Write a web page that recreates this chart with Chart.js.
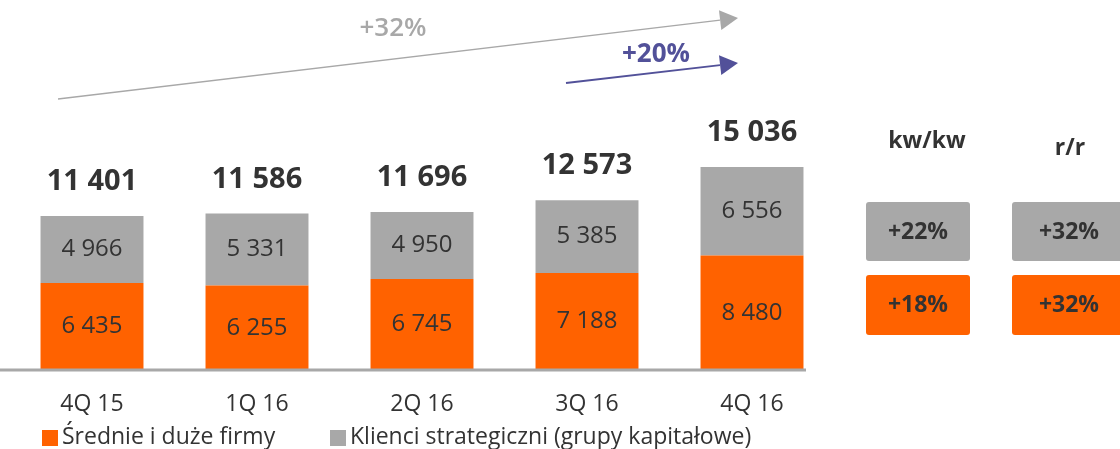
<!DOCTYPE html>
<html><head><meta charset="utf-8">
<script src="https://cdn.jsdelivr.net/npm/chart.js@4.4.1/dist/chart.umd.min.js"></script>
<style>html,body{margin:0;padding:0;background:#fff}#wrap{width:1120px;height:449px;position:relative}</style>
</head><body><div id="wrap"><canvas id="c" width="1120" height="449"></canvas></div>
<script>
const categories = ["4Q 15", "1Q 16", "2Q 16", "3Q 16", "4Q 16"];
const sredniePlusDuze = [6435, 6255, 6745, 7188, 8480];
const klienciStrategiczni = [4966, 5331, 4950, 5385, 6556];
const totals = [11401, 11586, 11696, 12573, 15036];
const seriesNames = ["Średnie i duże firmy", "Klienci strategiczni (grupy kapitałowe)"];
const growthHeaders = ["kw/kw", "r/r"];
const growthGray = ["+22%", "+32%"];
const growthOrange = ["+18%", "+32%"];
const arrowLabels = ["+32%", "+20%"];

const ORANGE = "#FF6200", GRAY = "#A8A8A8", DARK = "#333333", PURPLE = "#525199";
const FONT = "'Open Sans', 'Noto Sans', sans-serif";
const fmt = v => String(v).replace(/\B(?=(\d{3})+(?!\d))/g, " ");

function arrow(ctx, x1, y1, x2, y2, color, w, head) {
  const ang = Math.atan2(y2 - y1, x2 - x1);
  const bx = x2 - head * Math.cos(ang), by = y2 - head * Math.sin(ang);
  ctx.strokeStyle = color; ctx.lineWidth = w;
  ctx.beginPath(); ctx.moveTo(x1, y1); ctx.lineTo(bx, by); ctx.stroke();
  ctx.fillStyle = color; ctx.beginPath();
  ctx.moveTo(x2, y2);
  ctx.lineTo(bx + head * 0.55 * Math.sin(ang), by - head * 0.55 * Math.cos(ang));
  ctx.lineTo(bx - head * 0.55 * Math.sin(ang), by + head * 0.55 * Math.cos(ang));
  ctx.closePath(); ctx.fill();
}
function rrect(ctx, x, y, w, h, r, color) {
  ctx.fillStyle = color; ctx.beginPath();
  ctx.moveTo(x + r, y); ctx.lineTo(x + w - r, y); ctx.quadraticCurveTo(x + w, y, x + w, y + r);
  ctx.lineTo(x + w, y + h - r); ctx.quadraticCurveTo(x + w, y + h, x + w - r, y + h);
  ctx.lineTo(x + r, y + h); ctx.quadraticCurveTo(x, y + h, x, y + h - r);
  ctx.lineTo(x, y + r); ctx.quadraticCurveTo(x, y, x + r, y); ctx.closePath(); ctx.fill();
}

const deco = {
  id: "deco",
  afterDatasetsDraw(chart) {
    const ctx = chart.ctx, xs = chart.scales.x, ys = chart.scales.y;
    ctx.save();
    const y0 = ys.getPixelForValue(0);
    ctx.fillStyle = GRAY; ctx.fillRect(0, y0 - 1.5, 806, 3);
    ctx.textAlign = "center"; ctx.textBaseline = "middle";
    // segment labels
    ctx.font = "24px " + FONT; ctx.fillStyle = DARK;
    chart.data.datasets.forEach((ds, di) => {
      chart.getDatasetMeta(di).data.forEach((bar, i) => {
        const p = bar.getProps(["x", "y", "base"], true);
        ctx.fillText(fmt(ds.data[i]), p.x, (p.y + p.base) / 2);
      });
    });
    // totals
    ctx.font = "bold 29px " + FONT;
    totals.forEach((t, i) => {
      const x = xs.getPixelForValue(i);
      const y = ys.getPixelForValue(sredniePlusDuze[i] + klienciStrategiczni[i]);
      ctx.fillText(fmt(t), x, y - 34);
    });
    // x labels
    ctx.font = "23px " + FONT;
    categories.forEach((c, i) => ctx.fillText(c, xs.getPixelForValue(i), 404));
    // legend
    ctx.textAlign = "left";
    ctx.font = "23px " + FONT;
    ctx.fillStyle = ORANGE; ctx.fillRect(42, 430, 16, 16);
    ctx.fillStyle = DARK; ctx.fillText(seriesNames[0], 62, 437);
    ctx.fillStyle = GRAY; ctx.fillRect(330, 430, 16, 16);
    ctx.fillStyle = DARK; ctx.fillText(seriesNames[1], 350, 437);
    // arrows
    arrow(ctx, 58, 99, 738, 18, GRAY, 1.5, 18);
    arrow(ctx, 566, 83, 738, 63, PURPLE, 1.8, 18);
    ctx.textAlign = "center";
    ctx.font = "600 26px " + FONT;
    ctx.fillStyle = GRAY; ctx.fillText(arrowLabels[0], 393, 29);
    ctx.font = "bold 26px " + FONT;
    ctx.fillStyle = PURPLE; ctx.fillText(arrowLabels[1], 656, 55);
    // growth boxes
    ctx.font = "bold 23px " + FONT; ctx.fillStyle = DARK;
    ctx.fillText(growthHeaders[0], 927, 141);
    ctx.fillText(growthHeaders[1], 1070, 148);
    const boxX = [866, 1012], boxW = [104, 110];
    for (let k = 0; k < 2; k++) {
      rrect(ctx, boxX[k], 202, boxW[k], 59, 3, GRAY);
      rrect(ctx, boxX[k], 275, boxW[k], 60, 3, ORANGE);
      ctx.fillStyle = DARK; ctx.font = "bold 23px " + FONT;
      ctx.fillText(growthGray[k], 918 + (k ? 151 : 0), 232);
      ctx.fillText(growthOrange[k], 918 + (k ? 151 : 0), 305);
    }
    ctx.restore();
  }
};

new Chart(document.getElementById("c"), {
  type: "bar",
  data: {
    labels: categories,
    datasets: [
      { label: seriesNames[0], data: sredniePlusDuze, backgroundColor: ORANGE, borderWidth: 0 },
      { label: seriesNames[1], data: klienciStrategiczni, backgroundColor: GRAY, borderWidth: 0 }
    ]
  },
  options: {
    responsive: false, animation: false,
    layout: { padding: { left: 9.5, right: 285.5, top: 0, bottom: 79 } },
    datasets: { bar: { categoryPercentage: 1, barPercentage: 0.624 } },
    scales: {
      x: { stacked: true, display: false },
      y: { stacked: true, display: false, min: 0, max: 27390 }
    },
    plugins: { legend: { display: false }, tooltip: { enabled: false } }
  },
  plugins: [deco]
});
</script></body></html>
